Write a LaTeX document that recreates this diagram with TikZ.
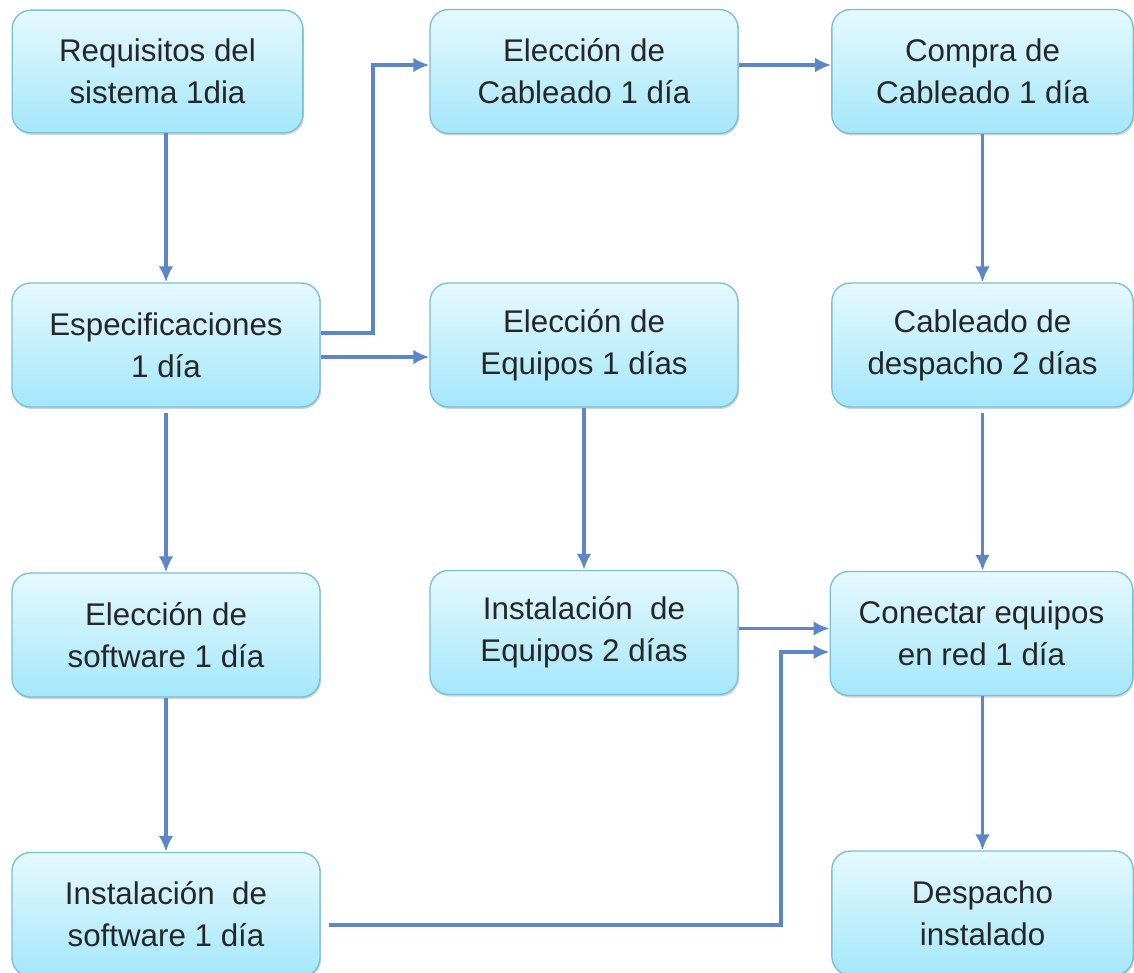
\documentclass[tikz,border=0pt]{standalone}
\usepackage{fontspec}
\setmainfont{Liberation Sans}
\usetikzlibrary{arrows.meta,shadows}
\definecolor{cajaarriba}{RGB}{230,249,254}
\definecolor{cajaabajo}{RGB}{164,231,250}
\definecolor{cajaborde}{RGB}{118,192,216}
\definecolor{flecha}{RGB}{92,134,200}
\definecolor{texto}{RGB}{38,38,38}
\tikzset{caja/.style={draw=cajaborde, line width=1pt, rounded corners=14pt, top color=cajaarriba, bottom color=cajaabajo, align=center, text=texto, inner sep=0pt, font=\fontsize{23.5}{31.5}\selectfont, drop shadow={shadow xshift=0.8pt, shadow yshift=-1.5pt, opacity=0.35}}}
\tikzset{ancha/.style={caja, minimum width=231pt, minimum height=93pt}}
\tikzset{flujo/.style={flecha, line width=2.8pt, ->}}
\begin{document}
\begin{tikzpicture}[x=0.75pt,y=-0.75pt,>={Latex[length=12pt,width=11pt]}]
\useasboundingbox (0,0) rectangle (1134,973);
\node[caja, minimum width=218pt, minimum height=92pt] (req) at (157.5,71.5) {Requisitos del\\sistema 1dia};
\node[ancha] (esp) at (166,345) {Especificaciones\\1 día};
\node[ancha] (esoft) at (166,635) {Elección de\\software 1 día};
\node[ancha] (isoft) at (166,914.5) {Instalación~ de\\software 1 día};
\node[ancha] (ecab) at (584,71.5) {Elección de\\Cableado 1 día};
\node[ancha] (eequ) at (584,345) {Elección de\\Equipos 1 días};
\node[ancha] (iequ) at (584,632.5) {Instalación~ de\\Equipos 2 días};
\node[caja, minimum width=226pt, minimum height=93pt] (compra) at (982.5,71.5) {Compra de\\Cableado 1 día};
\node[caja, minimum width=226pt, minimum height=93pt] (cdesp) at (982.5,345) {Cableado de\\despacho 2 días};
\node[caja, minimum width=227pt, minimum height=93pt] (conec) at (981.5,633.5) {Conectar equipos\\en red 1 día};
\node[caja, minimum width=226pt, minimum height=93pt] (desp) at (982.5,913) {Despacho\\instalado};
\coordinate (codoa) at (373,65);
\coordinate (codob) at (781,652);
\draw[flujo] (req.south -| esp) -- (esp.north);
\draw[flujo] ([yshift=-4pt]esp.south) -- (esoft.north);
\draw[flujo] (esoft.south) -- (isoft.north);
\draw[flujo] ([yshift=9pt]esp.east) -| (codoa) -- (ecab.west |- codoa);
\draw[flujo] ([yshift=-9pt]esp.east) -- ([yshift=-9pt]eequ.west);
\draw[flujo] (ecab.east |- codoa) -- (compra.west |- codoa);
\draw[flujo] (eequ.south) -- (iequ.north);
\draw[flujo] (compra.south) -- (cdesp.north);
\draw[flujo] ([yshift=-4pt]cdesp.south -| compra.south) -- (compra.south |- conec.north);
\draw[flujo] ([yshift=3pt]iequ.east) -- ([yshift=3pt]iequ.east -| conec.west);
\draw[flujo] ([xshift=6pt,yshift=-8pt]isoft.east) -| (codob) -- (codob -| conec.west);
\draw[flujo] (conec.south -| desp) -- (desp.north);
\end{tikzpicture}
\end{document}
